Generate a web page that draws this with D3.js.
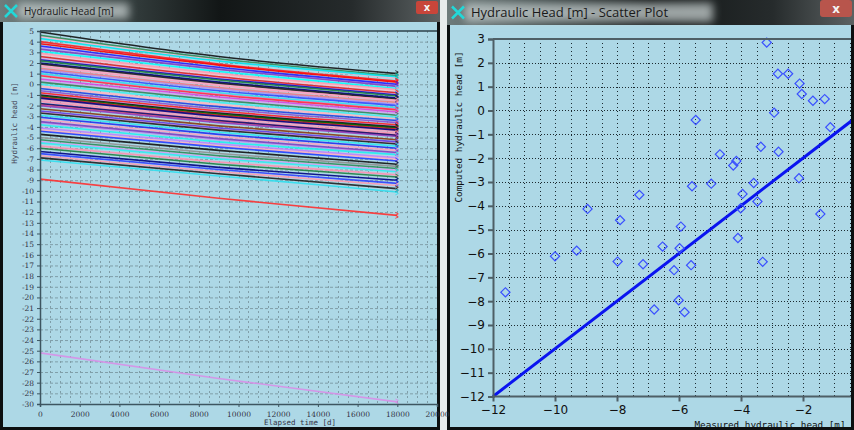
<!DOCTYPE html>
<html>
<head>
<meta charset="utf-8">
<script src="https://cdn.jsdelivr.net/npm/d3@7"></script>
<style>
  body { margin: 0; background: #fff; overflow: hidden; }
  svg { display: block; }
</style>
</head>
<body>
<svg id="chart" width="854" height="430"></svg>
<script>
// ---- left window: head vs elapsed time (value at t = 0, 9000, 18000 d)
const headTimes = [0, 9000, 18000];
const headStart = [4.9, 4.6, 4.3, 4.0, 3.8, 3.6, 3.3, 3.1, 2.9, 2.6, 2.3, 2.2, 2.0, 1.9, 1.7, 1.5, 1.2, 1.0, 0.8, 0.5,
  0.2, 0.0, -0.4, -0.6, -0.8, -1.0, -1.1, -1.2, -1.3, -1.6, -1.8, -2.0, -2.3, -2.5, -2.7, -2.9, -3.1, -3.3, -3.5, -3.8,
  -4.1, -4.4, -4.7, -5.0, -5.2, -5.5, -5.8, -6.0, -6.3, -6.5, -6.7, -6.9, -7.1, -8.9, -25.2,
  4.5, 3.5, 2.8, 2.4, 1.8, 1.4, 0.9, 0.3, -0.2, -0.9, -1.4, -1.9, -2.6, -3.6, -4.3, -5.4];
const headMid = [2.6, 2.4, 2.2, 1.9, 1.8, 1.6, 1.4, 1.2, 1.0, 0.7, 0.5, 0.4, 0.2, 0.1, -0.1, -0.3, -0.6, -0.8, -1.0, -1.2,
  -1.5, -1.7, -2.1, -2.3, -2.5, -2.7, -2.8, -2.9, -3.0, -3.3, -3.4, -3.6, -3.9, -4.1, -4.3, -4.5, -4.7, -4.9, -5.1, -5.4,
  -5.6, -5.9, -6.2, -6.5, -6.7, -7.0, -7.3, -7.5, -7.8, -8.0, -8.2, -8.4, -8.6, -10.7, -27.6,
  2.3, 1.5, 0.9, 0.6, 0.0, -0.4, -0.9, -1.4, -1.9, -2.6, -3.1, -3.5, -4.2, -5.2, -5.8, -6.9];
const headEnd = [1.0, 0.8, 0.7, 0.3, 0.2, 0.0, -0.2, -0.4, -0.5, -0.8, -1.0, -1.1, -1.3, -1.4, -1.5, -1.7, -2.0, -2.2, -2.4, -2.6,
  -2.9, -3.1, -3.4, -3.6, -3.8, -4.0, -4.1, -4.2, -4.3, -4.6, -4.8, -4.9, -5.2, -5.4, -5.6, -5.8, -6.0, -6.2, -6.4, -6.6,
  -6.9, -7.2, -7.5, -7.7, -7.9, -8.2, -8.5, -8.7, -9.0, -9.3, -9.5, -9.8, -10.1, -12.3, -29.8,
  0.6, -0.1, -0.6, -0.9, -1.5, -1.9, -2.3, -2.8, -3.2, -3.9, -4.4, -4.8, -5.5, -6.5, -7.0, -8.1];
const lineColors = ['#111111', '#2e8b57', '#00e5ee', '#ff2020', '#ff0000', '#2020ff', '#8040c0', '#00ffff', '#ff9ab0', '#e02020',
  '#1010c0', '#208040', '#000080', '#202020', '#ffa0c0', '#f08080', '#3050ff', '#30e0f0', '#ff3040', '#e040e0',
  '#2e8b57', '#40f0f0', '#2040e0', '#9050d0', '#ff2020', '#111111', '#006400', '#d02020', '#000080', '#ff90b0',
  '#101070', '#9040c0', '#8b3a10', '#6040e0', '#202020', '#30e8f0', '#2030f0', '#ffa0c0', '#8040c0', '#20f0f0',
  '#c080ff', '#2040ff', '#111111', '#909090', '#2e8b57', '#30f0f0', '#ff90b0', '#208040', '#000080', '#3040ff',
  '#ff9ab0', '#202020', '#30e0f0', '#ff3030', '#d890e8',
  '#f4b8d0', '#c0a0f0', '#ffc0cb', '#e8a0e0', '#f0b0c8', '#b090f0', '#ff80c0', '#d0a8f0', '#ffb6c1', '#c8a0e8',
  '#f4a0b8', '#ff6060', '#f0b0d8', '#b8a0f0', '#ffb0c0', '#d8a0f0'];
const timeTicks = d3.range(0, 20001, 2000);
const headTicks = d3.range(-30, 6, 1);

// ---- right window: computed vs measured scatter
const measuredHead = [-11.6, -10.0, -9.3, -8.95, -7.9, -7.28, -7.98, -7.16, -6.53, -5.98, -5.94, -6.16, -5.61, -6.01, -6.8,
  -5.82, -5.58, -4.96, -5.46, -4.68, -4.15, -4.25, -3.59, -3.95, -3.47, -4.01, -4.1, -3.3, -3.36, -2.79, -2.13, -1.44,
  -3.17, -2.81, -2.48, -2.11, -2.04, -1.68, -1.3, -2.93, -1.12];
const computedHead = [-7.63, -6.12, -5.88, -4.13, -4.6, -3.54, -6.34, -6.45, -5.71, -5.78, -4.87, -6.7, -6.49, -7.96, -8.35,
  -8.46, -3.18, -3.07, -0.4, -1.84, -2.12, -2.31, -3.04, -3.5, -3.82, -4.1, -5.35, -6.35, -1.52, -1.73, -2.84, -4.34,
  2.85, 1.54, 1.54, 1.13, 0.69, 0.41, 0.48, -0.09, -0.7];
const idealLine = [-12, 0];
const measuredTicks = [-12, -10, -8, -6, -4, -2, 0];
const computedTicks = d3.range(-12, 4, 1);

const svg = d3.select('#chart');
const defs = svg.append('defs');

const titleGrad = defs.append('linearGradient').attr('id', 'titleGrad');
[['0', '#6f7c7c'], ['0.25', '#3b4646'], ['0.5', '#121616'], ['0.8', '#262b2c'], ['1', '#5c6263']]
  .forEach(([o, c]) => titleGrad.append('stop').attr('offset', o).attr('stop-color', c));
const glow = defs.append('filter').attr('id', 'glow').attr('x', '-20%').attr('y', '-50%').attr('width', '140%').attr('height', '200%');
glow.append('feGaussianBlur').attr('stdDeviation', 4);

const drawWindow = (x0, x1, title, titleX, titleH, fontSize) => {
  svg.append('rect').attr('x', x0).attr('y', 0).attr('width', x1 - x0).attr('height', 430).attr('fill', '#0c0f10');
  svg.append('rect').attr('x', x0).attr('y', 0).attr('width', x1 - x0).attr('height', titleH).attr('fill', 'url(#titleGrad)');
  svg.append('rect').attr('x', x0 + 3).attr('y', titleH).attr('width', x1 - x0 - 6).attr('height', 427 - titleH)
    .attr('fill', '#add8e6');
  svg.append('rect').attr('x', titleX - 6).attr('y', 3).attr('width', title.length * fontSize * 0.55 + 12).attr('height', titleH - 6)
    .attr('fill', '#c9d2d2').attr('opacity', 0.75).attr('filter', 'url(#glow)');
  svg.append('text').attr('x', titleX).attr('y', titleH / 2 + fontSize * 0.36)
    .attr('font-family', 'Open Sans, sans-serif').attr('font-size', fontSize).attr('fill', '#1a1a1a').text(title);
  // window icon
  svg.append('path').attr('d', `M${x0 + 5},${titleH / 2 - 6}L${x0 + 17},${titleH / 2 + 6}M${x0 + 17},${titleH / 2 - 6}L${x0 + 5},${titleH / 2 + 6}`)
    .attr('stroke', '#22d8d8').attr('stroke-width', 2.5);
};

drawWindow(0, 440, 'Hydraulic Head [m]', 24, 22, 10);
drawWindow(447, 854, 'Hydraulic Head [m] - Scatter Plot', 471, 25, 13);
svg.append('rect').attr('x', 440).attr('y', 0).attr('width', 7).attr('height', 430).attr('fill', '#e8ecec');
// close buttons
svg.append('rect').attr('x', 416).attr('y', 1).attr('width', 22).attr('height', 13).attr('rx', 2).attr('fill', '#c8453a');
svg.append('text').attr('x', 427).attr('y', 11).attr('text-anchor', 'middle').attr('font-family', 'DejaVu Sans')
  .attr('font-size', 10).attr('font-weight', 'bold').attr('fill', '#f4f4f4').text('x');
svg.append('rect').attr('x', 820).attr('y', 0).attr('width', 32).attr('height', 17).attr('rx', 3).attr('fill', '#b8554c');
svg.append('text').attr('x', 836).attr('y', 13).attr('text-anchor', 'middle').attr('font-family', 'DejaVu Sans')
  .attr('font-size', 12).attr('font-weight', 'bold').attr('fill', '#f4f4f4').text('x');

// ================= left chart =================
const xT = d3.scaleLinear().domain([0, 20000]).range([40, 437]);
const yH = d3.scaleLinear().domain([-30, 5]).range([404, 31]);
const left = svg.append('g');

const gridL = left.append('g').attr('stroke', '#7f9ea8').attr('stroke-width', 1).attr('stroke-dasharray', '3,2');
gridL.selectAll('line.h').data(headTicks.filter(v => v > -30 && v < 5)).join('line')
  .attr('x1', xT(0)).attr('x2', 437).attr('y1', d => yH(d) + 0.5).attr('y2', d => yH(d) + 0.5);
gridL.selectAll('line.v').data(d3.range(500, 20000, 500)).join('line')
  .attr('y1', yH(5)).attr('y2', yH(-30)).attr('x1', d => Math.round(xT(d)) + 0.5).attr('x2', d => Math.round(xT(d)) + 0.5)
  .attr('stroke-dasharray', '2,3');

// draw the light lines first, the strong ones on top
const order = d3.range(headStart.length).sort((a, b) => (a >= 55) === (b >= 55) ? a - b : (a >= 55 ? -1 : 1));
const headLine = d3.line().x(d => xT(d[0])).y(d => yH(d[1])).curve(d3.curveMonotoneX);
left.append('g').selectAll('path').data(order).join('path')
  .attr('d', i => headLine([[headTimes[0], headStart[i]], [headTimes[1], headMid[i]], [headTimes[2], headEnd[i]]]))
  .attr('fill', 'none').attr('stroke', i => lineColors[i]).attr('stroke-width', i => i >= 55 ? 2.2 : 1.6).attr('opacity', 0.9);
// small label scribbles at the end of each series
left.append('g').selectAll('path').data(order).join('path')
  .attr('d', i => {
    const x = xT(headTimes[2]), y = yH(headEnd[i]);
    return `M${x - 2},${y - 3}l3,1.5l-3,1.5l3,1.5l-3,1.5`;
  })
  .attr('fill', 'none').attr('stroke', i => lineColors[i]).attr('stroke-width', 1).attr('opacity', 0.8);

left.append('g').attr('transform', `translate(0,${yH(-30)})`)
  .call(d3.axisBottom(xT).tickValues(timeTicks).tickSize(3).tickFormat(d3.format('d')))
  .call(g => g.select('.domain').attr('stroke', '#3d5560').attr('stroke-width', 1.5))
  .call(g => g.selectAll('.tick line').attr('stroke', '#3d5560'))
  .call(g => g.selectAll('text').attr('font-family', 'DejaVu Serif').attr('font-size', 7.5).attr('fill', '#334')
    .attr('dy', '0.9em'));
left.append('g').attr('transform', `translate(${xT(0)},0)`)
  .call(d3.axisLeft(yH).tickValues(headTicks).tickSize(3).tickFormat(d => d))
  .call(g => g.select('.domain').attr('stroke', '#3d5560').attr('stroke-width', 1.5))
  .call(g => g.selectAll('.tick line').attr('stroke', '#3d5560'))
  .call(g => g.selectAll('text').attr('font-family', 'DejaVu Serif').attr('font-size', 7.5).attr('fill', '#334'));
left.append('line').attr('x1', xT(0)).attr('x2', 437).attr('y1', yH(5)).attr('y2', yH(5))
  .attr('stroke', '#2d4048').attr('stroke-width', 1.5);
left.append('text').attr('x', 300).attr('y', 425).attr('text-anchor', 'middle')
  .attr('font-family', 'DejaVu Sans Mono').attr('font-size', 7.5).attr('fill', '#334').text('Elapsed time [d]');
left.append('text').attr('transform', 'translate(17,123) rotate(-90)').attr('text-anchor', 'middle')
  .attr('font-family', 'DejaVu Sans Mono').attr('font-size', 7.5).attr('fill', '#445').text('Hydraulic head [m]');

// ================= right chart =================
const xM = d3.scaleLinear().domain([-12, 0]).range([493, 865]);
const yC = d3.scaleLinear().domain([-12, 3]).range([396.5, 39]);
const right = svg.append('g');
right.append('clipPath').attr('id', 'clipR').append('rect').attr('x', 449).attr('y', 25).attr('width', 402).attr('height', 402);
const plotR = right.append('g').attr('clip-path', 'url(#clipR)');

plotR.append('g').selectAll('line').data(computedTicks.filter(v => v > -12 && v < 3)).join('line')
  .attr('x1', xM(-12)).attr('x2', xM(0)).attr('y1', d => Math.round(yC(d)) + 0.5).attr('y2', d => Math.round(yC(d)) + 0.5)
  .attr('stroke', '#1c2a30').attr('stroke-width', 1).attr('stroke-dasharray', '1,2');
plotR.append('g').selectAll('line').data(d3.range(-11.5, 0.1, 0.5)).join('line')
  .attr('y1', yC(3)).attr('y2', yC(-12)).attr('x1', d => Math.round(xM(d)) + 0.5).attr('x2', d => Math.round(xM(d)) + 0.5)
  .attr('stroke', '#1c2a30').attr('stroke-width', 1).attr('stroke-dasharray', '1,3');

plotR.append('line').attr('x1', xM(idealLine[0])).attr('y1', yC(idealLine[0]))
  .attr('x2', xM(idealLine[1])).attr('y2', yC(idealLine[1])).attr('stroke', '#0a14f0').attr('stroke-width', 3);

plotR.append('g').selectAll('path').data(measuredHead).join('path')
  .attr('d', d3.symbol().type(d3.symbolSquare).size(42))
  .attr('transform', (d, i) => `translate(${xM(d)},${yC(computedHead[i])}) rotate(45)`)
  .attr('fill', 'none').attr('stroke', '#3a50ff').attr('stroke-width', 1.2);

const minus = d => d3.format('d')(d).replace('-', '\u2212');
right.append('g').attr('transform', `translate(0,${yC(-12)})`)
  .call(d3.axisBottom(xM).tickValues(measuredTicks.filter(v => v < 0)).tickSize(5).tickFormat(minus))
  .call(g => g.select('.domain').remove())
  .call(g => g.selectAll('.tick line').attr('stroke', '#4e5f66').attr('stroke-width', 2))
  .call(g => g.selectAll('text').attr('font-family', 'DejaVu Sans').attr('font-size', 12).attr('fill', '#111').attr('dy', '0.8em'));
right.append('line').attr('x1', xM(-12)).attr('x2', 851).attr('y1', yC(-12)).attr('y2', yC(-12))
  .attr('stroke', '#4e5f66').attr('stroke-width', 2);
right.append('g').attr('transform', `translate(${xM(-12)},0)`)
  .call(d3.axisLeft(yC).tickValues(computedTicks).tickSize(5).tickFormat(minus))
  .call(g => g.select('.domain').attr('stroke', '#4e5f66').attr('stroke-width', 2))
  .call(g => g.selectAll('.tick line').attr('stroke', '#4e5f66').attr('stroke-width', 2))
  .call(g => g.selectAll('text').attr('font-family', 'DejaVu Sans').attr('font-size', 12).attr('fill', '#111'));
right.append('line').attr('x1', xM(-12)).attr('x2', 851).attr('y1', yC(3)).attr('y2', yC(3))
  .attr('stroke', '#4e5f66').attr('stroke-width', 2);
right.append('text').attr('x', 770).attr('y', 428).attr('text-anchor', 'middle')
  .attr('font-family', 'DejaVu Sans Mono').attr('font-size', 9.3).attr('fill', '#111').text('Measured hydraulic head [m]');
right.append('text').attr('transform', 'translate(462,127) rotate(-90)').attr('text-anchor', 'middle')
  .attr('font-family', 'DejaVu Sans Mono').attr('font-size', 9.3).attr('fill', '#111').text('Computed hydraulic head [m]');
</script>
</body>
</html>
